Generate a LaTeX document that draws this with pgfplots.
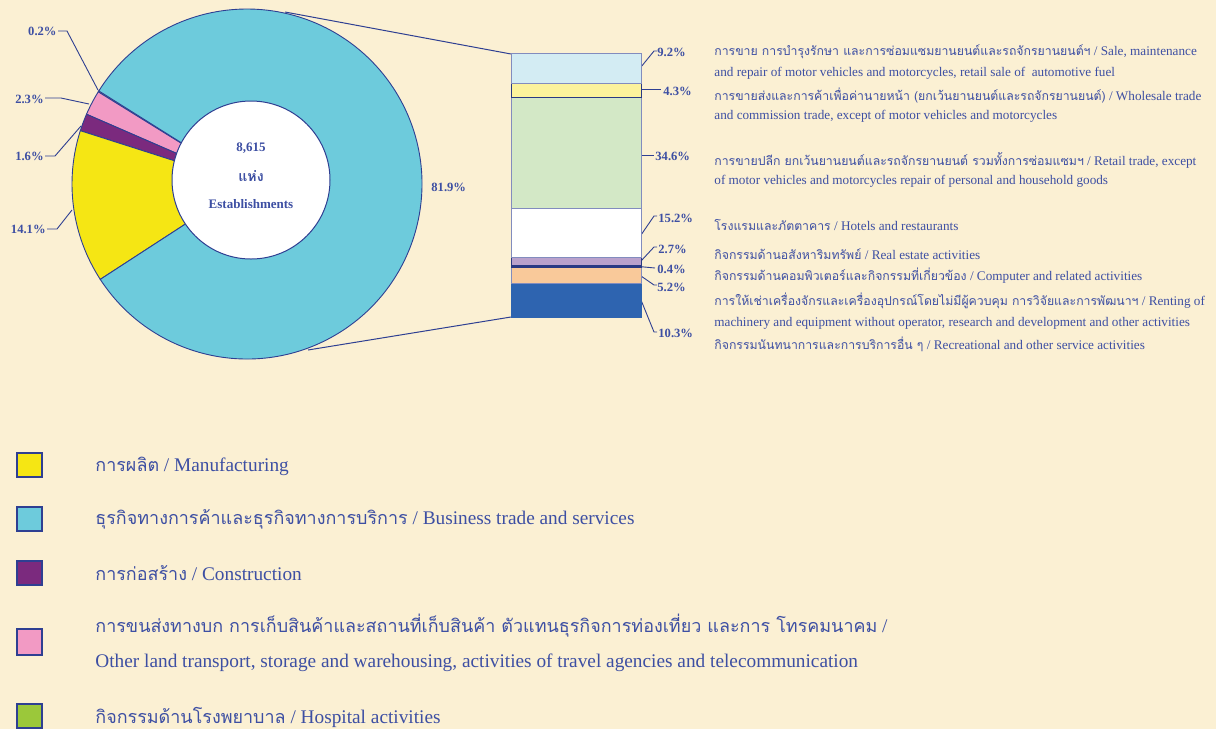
\documentclass[border=0pt]{standalone}
\usepackage{fontspec}
\setmainfont{Liberation Serif}
\newfontfamily\thai[Script=Thai,Scale=0.93]{Loma}
\usepackage{pgfplots}
\pgfplotsset{compat=1.18}
\definecolor{bg}{HTML}{FBF0D3}
\definecolor{txt}{HTML}{3D4FA3}
\definecolor{edge}{HTML}{2E3F92}
\definecolor{bizblue}{HTML}{6DCBDC}
\definecolor{manyellow}{HTML}{F5E614}
\definecolor{conpurple}{HTML}{7B2A7E}
\definecolor{transpink}{HTML}{F29AC4}
\definecolor{hospgreen}{HTML}{9BC83A}
\definecolor{b1}{HTML}{D3ECF3}
\definecolor{b2}{HTML}{FBF29C}
\definecolor{b3}{HTML}{D3E8C6}
\definecolor{b4}{HTML}{FFFFFF}
\definecolor{b5}{HTML}{B9A1CC}
\definecolor{b6}{HTML}{E8201F}
\definecolor{b7}{HTML}{F9C99A}
\definecolor{b8}{HTML}{2E64B0}
\begin{document}
\begin{tikzpicture}
\begin{axis}[name=main, width=608pt, height=364.5pt, scale only axis,
  xmin=0, xmax=1216, ymin=0, ymax=729, y dir=reverse,
  axis lines=none, ticks=none, clip=false]
\fill[bg] (axis cs:0,0) rectangle (axis cs:1216,729);
% connector lines pie -> bar
\draw[edge, line width=0.5pt] (axis cs:285,12) -- (axis cs:511,54);
\draw[edge, line width=0.5pt] (axis cs:308,350) -- (axis cs:511,317);
% pie
\xdef\acc{147.5}
\foreach \v/\c in {0.2/hospgreen, 2.3/transpink, 1.6/conpurple, 14.1/manyellow, 81.9/bizblue}{
  \pgfmathsetmacro\aend{\acc+3.6*\v}
  \edef\temp{\noexpand\filldraw[fill=\c, draw=edge, line width=0.45pt]
    (axis cs:247,184) -- (axis cs:{247+175*cos(\acc)},{184-175*sin(\acc)})
    arc[start angle=\acc, end angle=\aend, radius=87.5pt] -- cycle;}
  \temp
  \xdef\acc{\aend}
}
\filldraw[fill=white, draw=edge, line width=0.5pt] (axis cs:251,180) circle[radius=39.5pt];
\node[txt, font=\bfseries\fontsize{6.5}{7}\selectfont] at (axis cs:251,148) {8,615};
\node[txt, font=\bfseries\fontsize{7.6}{8}\selectfont] at (axis cs:251,176) {\thai แห่ง};
\node[txt, font=\bfseries\fontsize{6.5}{7}\selectfont] at (axis cs:251,204) {Establishments};
% pie labels
\begin{scope}[every node/.style={txt, font=\bfseries\fontsize{6.3}{7}\selectfont, inner sep=0pt}]
\node[anchor=east] at (axis cs:57,31) {0.2\%};
\node[anchor=east] at (axis cs:44,99) {2.3\%};
\node[anchor=east] at (axis cs:44,156) {1.6\%};
\node[anchor=east] at (axis cs:46,229) {14.1\%};
\node[anchor=west] at (axis cs:431,187) {81.9\%};
\end{scope}
\begin{scope}[edge, line width=0.45pt]
\draw (axis cs:58,31) -- (axis cs:67,31) -- (axis cs:98,90);
\draw (axis cs:45,98) -- (axis cs:61,98) -- (axis cs:89,104);
\draw (axis cs:45,156) -- (axis cs:55,156) -- (axis cs:81,126);
\draw (axis cs:47,229) -- (axis cs:57,229) -- (axis cs:72,210);
% bar leaders
\draw (axis cs:641,67) -- (axis cs:654,51) -- (axis cs:657,51);
\draw (axis cs:641,89) -- (axis cs:661,89);
\draw (axis cs:641,155) -- (axis cs:654,155);
\draw (axis cs:641,235) -- (axis cs:654,216) -- (axis cs:657,216);
\draw (axis cs:641,261) -- (axis cs:654,247) -- (axis cs:657,247);
\draw (axis cs:641,266.7) -- (axis cs:655,268);
\draw (axis cs:641,276) -- (axis cs:654,285) -- (axis cs:657,285);
\draw (axis cs:641,300) -- (axis cs:654,332) -- (axis cs:657,332);
\end{scope}
\begin{scope}[every node/.style={txt, font=\bfseries\fontsize{6.3}{7}\selectfont, inner sep=0pt, anchor=west}]
\node at (axis cs:657,52) {9.2\%};
\node at (axis cs:663,91) {4.3\%};
\node at (axis cs:655,156) {34.6\%};
\node at (axis cs:658,218) {15.2\%};
\node at (axis cs:658,249) {2.7\%};
\node at (axis cs:657,269) {0.4\%};
\node at (axis cs:657,287) {5.2\%};
\node at (axis cs:658,333) {10.3\%};
\end{scope}
% right descriptions
\begin{scope}[every node/.style={txt, font=\fontsize{6.6}{7}\selectfont, inner sep=0pt, anchor=west}]
\node at (axis cs:714,52) {{\thai การขาย การบำรุงรักษา และการซ่อมแซมยานยนต์และรถจักรยานยนต์ฯ} / Sale, maintenance};
\node at (axis cs:714,73) {and repair of motor vehicles and motorcycles, retail sale of \ automotive fuel};
\node at (axis cs:714,95) {{\thai การขายส่งและการค้าเพื่อค่านายหน้า (ยกเว้นยานยนต์และรถจักรยานยนต์)} / Wholesale trade};
\node at (axis cs:714,116) {and commission trade, except of motor vehicles and motorcycles};
\node at (axis cs:714,160) {{\thai การขายปลีก ยกเว้นยานยนต์และรถจักรยานยนต์ รวมทั้งการซ่อมแซมฯ} / Retail trade, except};
\node at (axis cs:714,181) {of motor vehicles and motorcycles repair of personal and household goods};
\node at (axis cs:714,225) {{\thai โรงแรมและภัตตาคาร} / Hotels and restaurants};
\node at (axis cs:714,254) {{\thai กิจกรรมด้านอสังหาริมทรัพย์} / Real estate activities};
\node at (axis cs:714,276) {{\thai กิจกรรมด้านคอมพิวเตอร์และกิจกรรมที่เกี่ยวข้อง} / Computer and related activities};
\node at (axis cs:714,301) {{\thai การให้เช่าเครื่องจักรและเครื่องอุปกรณ์โดยไม่มีผู้ควบคุม การวิจัยและการพัฒนาฯ} / Renting of};
\node at (axis cs:714,323) {machinery and equipment without operator, research and development and other activities};
\node at (axis cs:714,344) {{\thai กิจกรรมนันทนาการและการบริการอื่น ๆ} / Recreational and other service activities};
\end{scope}
% legend
\begin{scope}[draw=edge, line width=0.6pt]
\filldraw[fill=manyellow] (axis cs:17,453) rectangle (axis cs:42,477);
\filldraw[fill=bizblue] (axis cs:17,507) rectangle (axis cs:42,531);
\filldraw[fill=conpurple] (axis cs:17,561) rectangle (axis cs:42,585);
\filldraw[fill=transpink] (axis cs:17,629) rectangle (axis cs:42,655);
\filldraw[fill=hospgreen] (axis cs:17,704) rectangle (axis cs:42,728);
\end{scope}
\begin{scope}[every node/.style={txt, font=\fontsize{9.65}{10}\selectfont, inner sep=0pt, anchor=west}]
\node at (axis cs:95,466) {{\thai การผลิต} / Manufacturing};
\node at (axis cs:95,519) {{\thai ธุรกิจทางการค้าและธุรกิจทางการบริการ} / Business trade and services};
\node at (axis cs:95,573) {{\thai การก่อสร้าง} / Construction};
\node at (axis cs:95,626) {{\thai การขนส่งทางบก การเก็บสินค้าและสถานที่เก็บสินค้า ตัวแทนธุรกิจการท่องเที่ยว และการ โทรคมนาคม} /};
\node at (axis cs:95,663) {Other land transport, storage and warehousing, activities of travel agencies and telecommunication};
\node at (axis cs:95,717) {{\thai กิจกรรมด้านโรงพยาบาล} / Hospital activities};
\end{scope}
\coordinate (bartl) at (axis cs:511,54);
\end{axis}
\begin{axis}[at={(bartl)}, anchor=north west, width=65pt, height=131.5pt, scale only axis,
  xmin=-0.5, xmax=0.5, ymin=0, ymax=81.9, y dir=reverse, axis lines=none, ticks=none,
  ybar stacked, bar width=65pt, clip=false]
\addplot[fill=b1, draw=edge!60, line width=0.5pt] coordinates {(0,9.2)};
\addplot[fill=b2, draw=edge!90!black, line width=0.5pt] coordinates {(0,4.3)};
\addplot[fill=b3, draw=edge!60, line width=0.5pt] coordinates {(0,34.6)};
\addplot[fill=b4, draw=edge!60, line width=0.5pt] coordinates {(0,15.2)};
\addplot[fill=b5, draw=edge!90!black, line width=0.5pt] coordinates {(0,2.7)};
\addplot[fill=b6, draw=edge!90!black, line width=0.3pt] coordinates {(0,0.4)};
\addplot[fill=b7, draw=edge!60, line width=0.5pt] coordinates {(0,5.2)};
\addplot[fill=b8, draw=b8, line width=0.5pt] coordinates {(0,10.3)};
\end{axis}
\end{tikzpicture}
\end{document}
